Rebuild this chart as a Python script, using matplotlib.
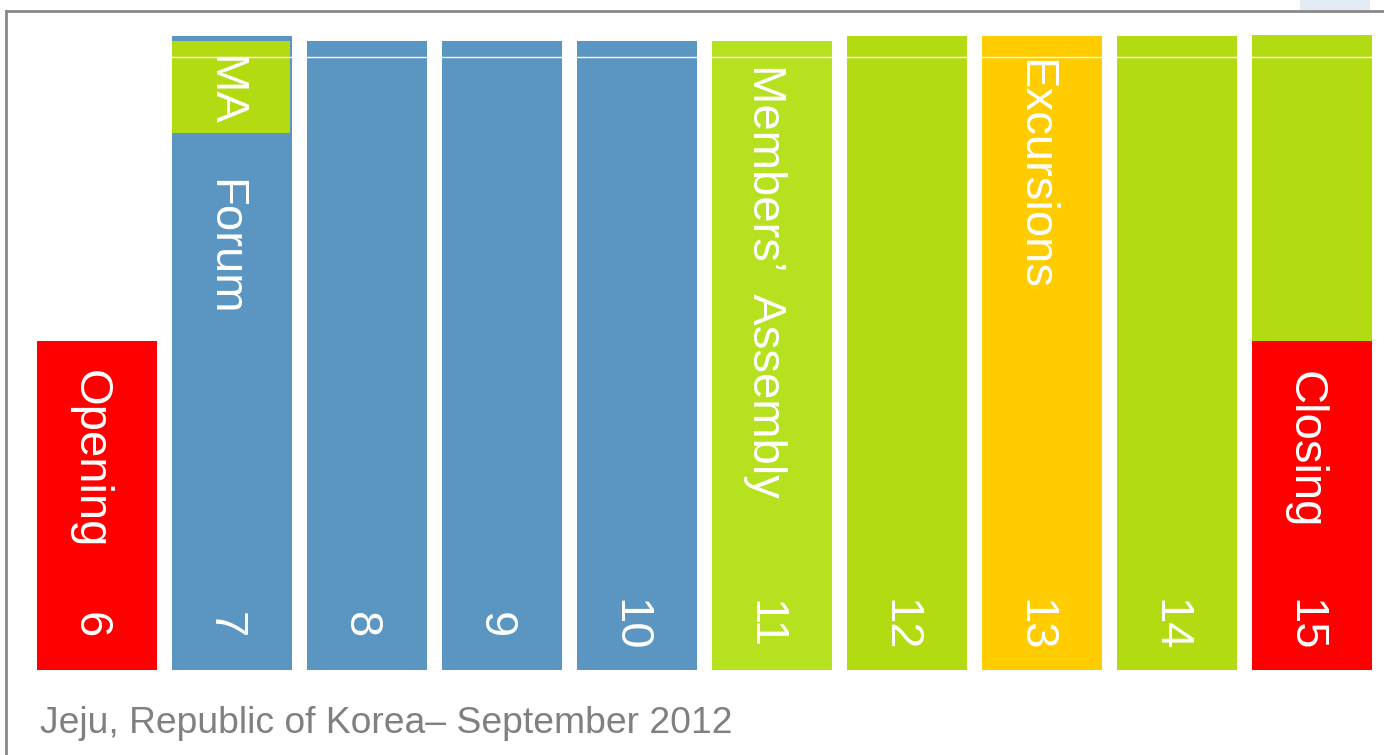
import matplotlib.pyplot as plt
import matplotlib.patches as mpatches

plt.rcParams['font.family'] = ['Liberation Sans', 'DejaVu Sans']

# ---- dati: zilele evenimentului si segmentele fiecarei coloane ----
days = [6, 7, 8, 9, 10, 11, 12, 13, 14, 15]
# inaltimea coloanei (unitati ~ pixeli de la baza)
col_height = [329, 634, 629, 629, 629, 629, 634, 634, 634, 635]
col_color = ['#FF0000', '#5B95C2', '#5B95C2', '#5B95C2', '#5B95C2',
             '#B5E11E', '#B3DB11', '#FFCC00', '#B3DB11', '#B3DB11']
# segmente suprapuse: (zi, jos, inaltime, culoare)
overlays = [(7, 537, 92, '#B3DB11'),    # MA in coloana 7
            (15, 0, 329, '#FF0000')]    # Closing in coloana 15

# etichete de activitate: (zi, sus, text)
labels = [(6, 300, 'Opening'),
          (7, 615, 'MA'),
          (7, 491, 'Forum'),
          (11, 606, 'Members\u2019  Assembly'),
          (13, 611, 'Excursions'),
          (15, 299, 'Closing')]

footer = 'Jeju, Republic of Korea\u2013 September 2012'

#============================ desen ============================
fig = plt.figure(figsize=(13.84, 7.55), dpi=100)
ax = fig.add_axes([0, 0, 1, 1])
ax.set_xlim(6 - 96.5 / 135, 6 + 1287.5 / 135)
ax.set_ylim(-85, 670)
ax.axis('off')

w = 120 / 135
dx = 7 / 135   # textul rotit e putin spre stanga fata de centru
ax.bar(days, col_height, width=w, color=col_color, align='center', zorder=2)
for d, b, h, c in overlays:
    wd = w - (2 / 135 if d == 7 else 0)
    ax.bar(d - (1 / 135 if d == 7 else 0), h, bottom=b, width=wd, color=c, zorder=3)

# linia alba subtire de sus
ax.axhline(613, color='white', lw=1, zorder=4)

for d, top, t in labels:
    ax.text(d - dx, top, t, rotation=-90, ha='center', va='top', color='white',
            fontsize=34, zorder=5)

for d in days:
    ax.text(d - dx, 45, str(d), rotation=-90, ha='center', va='center', color='white',
            fontsize=34, zorder=5)

# mic decor albastru in colt
fig.add_artist(mpatches.Rectangle((1300 / 1384, 1 - 10 / 755), 70 / 1384, 10 / 755,
                                  color='#E3ECF5', transform=fig.transFigure, lw=0))
# chenar gri (sus si stanga)
fig.add_artist(plt.Line2D([6 / 1384, 1], [1 - 11 / 755, 1 - 11 / 755],
                          color='#888888', lw=2, transform=fig.transFigure))
fig.add_artist(plt.Line2D([6 / 1384, 6 / 1384], [0, 1 - 11 / 755],
                          color='#888888', lw=2, transform=fig.transFigure))

fig.text(40 / 1384, 1 - 733 / 755, footer, color='#808080', fontsize=26.8,
         ha='left', va='baseline')

plt.savefig('out.png', dpi=100)
